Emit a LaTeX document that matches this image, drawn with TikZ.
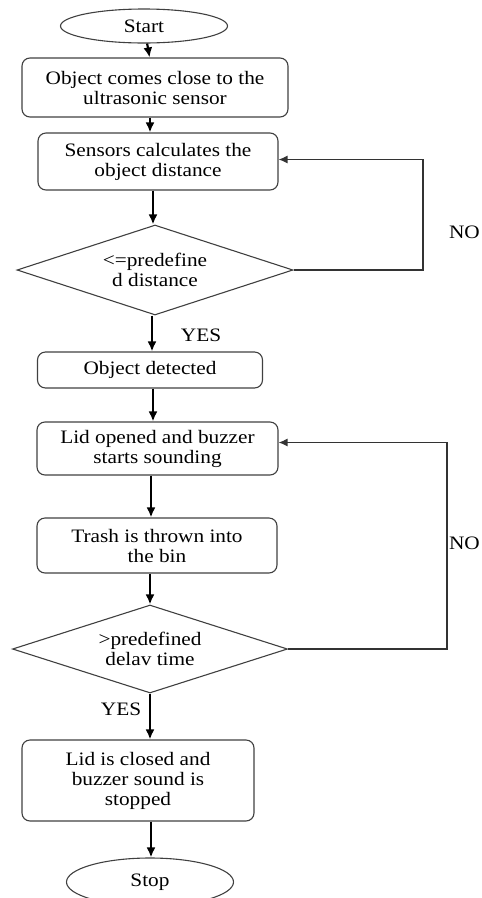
\documentclass[tikz,border=0pt]{standalone}
\usepackage{fontspec}
\setmainfont{Liberation Serif}[FakeStretch=1.12]
\usepackage{tikz}
\usetikzlibrary{shapes.geometric,arrows.meta}

\tikzset{
	box/.style={draw=black!75,line width=1.1pt,rounded corners=8pt,align=center,inner sep=0pt},
	term/.style={draw=black!75,line width=1.1pt,ellipse,inner sep=0pt},
	test/.style={draw=black!75,line width=1.1pt,diamond,aspect=3,inner sep=0pt,align=center},
	flow/.style={-{Latex[length=10pt,width=9pt]},line width=2.2pt},
	back/.style={-{Latex[length=9pt,width=8pt]},line width=1.3pt,black!80},
	lbl/.style={inner sep=0pt}
}

\begin{document}
\begin{tikzpicture}[x=1pt,y=-1pt,font=\fontsize{19}{20}\selectfont]
	
	\useasboundingbox (0,0) rectangle (482,898);
	
	\node[term,minimum width=167pt,minimum height=34pt] (start) at (144,26) {Start};
	\node[box,minimum width=266pt,minimum height=59pt] (close) at (155,87.5) {Object comes close to the\\ultrasonic sensor};
	\node[box,minimum width=240pt,minimum height=57pt] (calc) at (158,161.5) {Sensors calculates the\\object distance};
	\node[test,minimum width=276pt,minimum height=90pt] (dist) at (155,270) {<=predefine\\d distance};
	\node[box,minimum width=225pt,minimum height=36pt] (found) at (150,370) {Object detected};
	\node[box,minimum width=241pt,minimum height=53pt] (lid) at (157.5,448.5) {Lid opened and buzzer\\starts sounding};
	\node[box,minimum width=240pt,minimum height=55pt] (trash) at (157,545.5) {Trash is thrown into\\the bin};
	\node[test,minimum width=275pt,minimum height=88pt] (delay) at (150,649) {>predefined\\delav time};
	\node[box,minimum width=232pt,minimum height=81pt] (shut) at (138,780.5) {Lid is closed and\\buzzer sound is\\stopped};
	\node[term,minimum width=167pt,minimum height=48pt] (stop) at (150,882) {Stop};
	
	\coordinate (c1) at (423,270);
	\coordinate (c2) at (447,649);
	
	\draw[flow] (start) -- (close);
	\draw[flow] (close.south -| 150,0) -- (calc.north -| 150,0);
	\draw[flow] (calc.south -| 153,0) -- (dist.north -| 153,0);
	\draw[flow] (dist.south -| 152,0) -- (found.north -| 152,0);
	\draw[flow] (found.south -| 153,0) -- (lid.north -| 153,0);
	\draw[flow] (lid.south -| 151,0) -- (trash.north -| 151,0);
	\draw[flow] (trash.south -| 150,0) -- (delay.north);
	\draw[flow] (delay.south) -- (shut.north -| 150,0);
	\draw[flow] (shut.south -| 151,0) -- (stop.north -| 151,0);
	
	\draw[back] (dist.east) -- (c1) |- ([yshift=2pt]calc.east);
	\draw[back] (delay.east) -- (c2) |- ([yshift=6pt]lid.east);
	
	\node[lbl] (yes1) at (201,335) {YES};
	\node[lbl,anchor=east] (no1) at (480,232) {NO};
	\node[lbl] (yes2) at (121,709) {YES};
	\node[lbl,anchor=east] (no2) at (480,543) {NO};
	
\end{tikzpicture}
\end{document}
